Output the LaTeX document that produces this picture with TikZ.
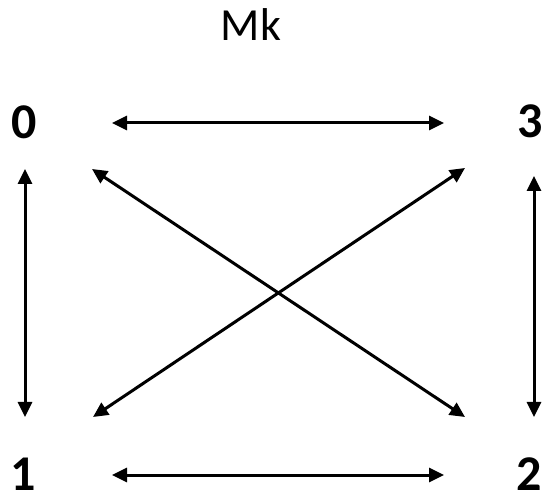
\documentclass[tikz,border=0pt]{standalone}
\usepackage{fontspec}
\setmainfont{Carlito}
\usetikzlibrary{arrows.meta}
\tikzset{
  vlabel/.style={inner sep=0pt,font=\fontsize{50}{50}\selectfont\bfseries},
  link/.style={{Triangle[length=15pt,width=14pt]}-{Triangle[length=15pt,width=14pt]},line width=3pt}
}
\begin{document}
\begin{tikzpicture}[x=1pt,y=-1pt]
  \useasboundingbox (0,0) rectangle (544,494);
  % title and vertex labels
  \node[inner sep=0pt,font=\fontsize{46}{46}\selectfont] (title) at (251,25) {Mk};
  \node[vlabel] (v0) at (24,122) {0};
  \node[vlabel] (v3) at (530,121) {3};
  \node[vlabel] (v1) at (23,474) {1};
  \node[vlabel] (v2) at (529,474) {2};
  % arrow ends
  \coordinate (top0) at (112,123);
  \coordinate (top3) at (444,123);
  \coordinate (bot1) at (112,475);
  \coordinate (bot2) at (444,475);
  \coordinate (left0) at (25,169);
  \coordinate (left1) at (25,417);
  \coordinate (right3) at (534,176);
  \coordinate (right2) at (534,417);
  \coordinate (diag0) at (92,169);
  \coordinate (diag2) at (465,417);
  \coordinate (diag3) at (465,168);
  \coordinate (diag1) at (93,417);
  % connectors
  \draw[link] (top0) -- (top3);
  \draw[link] (bot1) -- (bot2);
  \draw[link] (left0) -- (left1);
  \draw[link] (right3) -- (right2);
  \draw[link] (diag0) -- (diag2);
  \draw[link] (diag3) -- (diag1);
\end{tikzpicture}
\end{document}
